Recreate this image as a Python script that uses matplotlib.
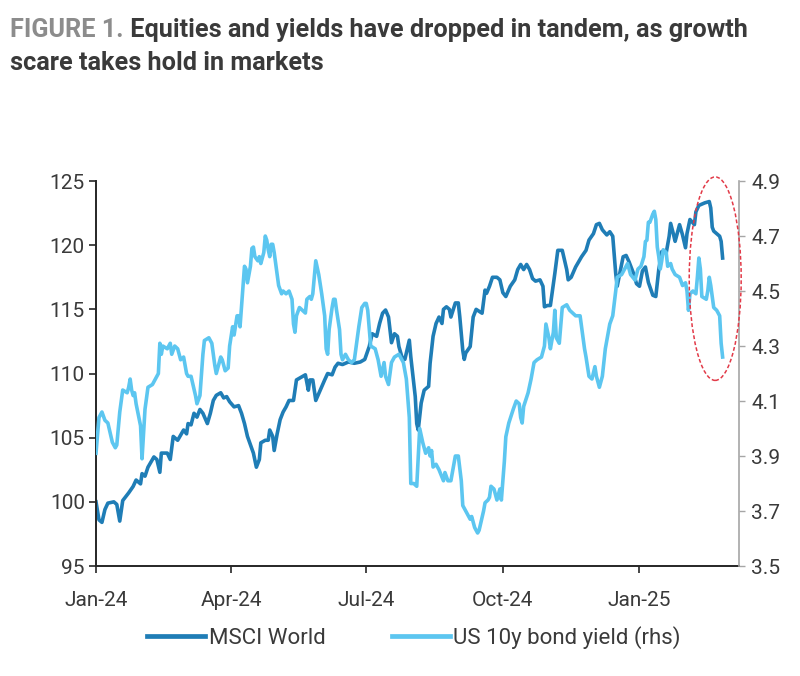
import matplotlib
matplotlib.use("Agg")
import matplotlib.pyplot as plt
import matplotlib.dates as mdates
from matplotlib.patches import Ellipse
from matplotlib.lines import Line2D
import pandas as pd

# ── Data ────────────────────────────────────────────────────────────────────
# x positions are days since 1 Jan 2024
START = "2024-01-01"

msci_day = [
    0, 2, 4, 6, 8, 12, 14, 16, 18, 22, 25, 27, 30, 31, 33, 35, 39, 41, 43, 44,
    48, 50, 52, 55, 59, 61, 62, 64, 66, 68, 70, 72, 75, 77, 79, 81, 84, 86, 88,
    90, 93, 96, 98, 100, 102, 106, 108, 110, 111, 114, 116, 117, 119, 120, 122,
    124, 126, 128, 130, 133, 135, 138, 141, 143, 144, 146, 148, 151, 154, 156,
    159, 161, 163, 166, 170, 174, 178, 181, 184, 186, 189, 191, 193, 195, 197,
    199, 201, 203, 204, 206, 208, 210, 211, 212, 215, 216, 217, 219, 221, 224,
    225, 227, 229, 231, 233, 234, 236, 238, 239, 242, 244, 245, 247, 248, 249,
    252, 254, 256, 260, 262, 263, 265, 267, 270, 272, 274, 276, 279, 282, 284,
    286, 288, 290, 292, 294, 296, 299, 301, 302, 304, 306, 309, 311, 314, 317,
    318, 320, 323, 327, 330, 332, 335, 337, 339, 341, 344, 346, 348, 350, 351,
    355, 357, 359, 362, 364, 366, 368, 370, 372, 375, 377, 379, 381, 384, 386,
    387, 389, 390, 393, 395, 397, 398, 400, 403, 404, 406, 410, 413, 414, 415,
    416, 420, 421, 422,
]
msci_val = [
    100.0, 98.6, 98.4, 99.4, 99.9, 100.0, 99.8, 98.5, 100.1, 100.7, 101.2,
    101.7, 101.4, 102.2, 102.0, 102.7, 103.5, 103.3, 102.3, 103.8, 103.8,
    103.3, 105.1, 104.8, 105.6, 105.3, 106.1, 106.0, 106.9, 106.6, 107.2,
    106.9, 106.1, 106.9, 107.9, 108.3, 108.5, 108.1, 108.2, 107.8, 107.4,
    107.5, 106.9, 106.1, 105.1, 103.8, 102.7, 103.3, 104.6, 104.8, 104.8,
    105.6, 105.1, 104.0, 105.3, 106.4, 107.0, 107.4, 107.9, 107.9, 109.5,
    109.7, 109.9, 108.7, 109.5, 109.5, 107.9, 108.7, 109.5, 110.0, 109.9,
    110.5, 110.8, 110.7, 110.9, 110.8, 110.9, 111.1, 112.1, 113.1, 112.9,
    113.9, 114.7, 114.95, 114.4, 112.4, 113.1, 112.9, 112.1, 111.3, 111.1,
    112.1, 112.6, 111.3, 108.2, 106.1, 105.6, 107.7, 108.7, 109.0, 110.8,
    112.9, 113.9, 114.4, 113.9, 115.0, 115.2, 115.0, 114.4, 115.5, 115.5,
    114.4, 111.8, 111.1, 111.6, 112.1, 114.4, 115.0, 114.7, 116.5, 116.25,
    116.8, 117.5, 117.5, 117.3, 116.3, 116.0, 116.8, 117.3, 118.1, 118.5,
    118.1, 118.5, 118.1, 117.4, 117.2, 117.3, 116.8, 115.2, 115.3, 115.3,
    117.8, 119.6, 119.6, 118.1, 117.3, 117.5, 118.3, 119.1, 119.6, 120.4,
    120.9, 121.6, 121.7, 121.2, 120.8, 121.05, 120.7, 117.8, 116.8, 119.1,
    119.2, 118.7, 117.8, 117.0, 116.8, 118.0, 118.3, 117.1, 116.1, 116.0,
    118.1, 119.5, 119.4, 120.7, 121.7, 120.8, 120.3, 121.6, 120.8, 119.8,
    120.9, 122.0, 121.6, 122.6, 123.1, 123.3, 123.4, 122.9, 121.4, 121.1,
    120.7, 120.3, 119.0,
]

yld_day = [
    0, 2, 4, 6, 8, 11, 13, 14, 16, 17, 18, 21, 22, 23, 24, 25, 26, 27, 30, 31,
    32, 33, 35, 38, 40, 42, 43, 44, 45, 48, 50, 51, 53, 55, 57, 59, 61, 62, 64,
    67, 68, 70, 72, 73, 76, 78, 80, 81, 84, 85, 87, 89, 90, 92, 93, 95, 96, 97,
    99, 100, 101, 102, 104, 105, 106, 107, 109, 110, 111, 113, 114, 115, 116,
    117, 118, 119, 120, 123, 125, 126, 128, 130, 132, 133, 134, 135, 137, 139,
    141, 142, 144, 145, 146, 148, 150, 152, 154, 155, 156, 157, 159, 160, 161,
    162, 164, 165, 166, 168, 170, 172, 174, 177, 179, 181, 182, 183, 185, 188,
    190, 192, 194, 195, 197, 199, 201, 204, 207, 209, 211, 212, 214, 216, 218,
    220, 222, 224, 225, 226, 227, 229, 231, 234, 235, 237, 239, 242, 244, 246,
    247, 249, 252, 253, 255, 257, 258, 261, 262, 264, 265, 266, 268, 270, 272,
    273, 274, 275, 276, 278, 281, 283, 285, 286, 287, 288, 291, 293, 295, 297,
    300, 302, 303, 305, 306, 308, 309, 310, 312, 314, 317, 319, 321, 323, 326,
    328, 329, 330, 332, 334, 336, 337, 339, 341, 343, 346, 348, 350, 351, 354,
    356, 358, 360, 363, 365, 367, 369, 370, 371, 372, 373, 375, 376, 377, 378,
    379, 380, 381, 382, 384, 385, 387, 388, 390, 393, 395, 397, 398, 399, 400,
    402, 404, 405, 406, 407, 408, 411, 412, 413, 414, 415, 416, 418, 420, 421,
    422,
]
yld_val = [
    3.91, 4.04, 4.06, 4.03, 4.02, 3.95, 3.93, 3.94, 4.06, 4.10, 4.14, 4.13,
    4.15, 4.18, 4.14, 4.12, 4.13, 4.09, 4.01, 3.89, 3.98, 4.07, 4.15, 4.16,
    4.18, 4.20, 4.31, 4.27, 4.30, 4.29, 4.31, 4.27, 4.30, 4.29, 4.25, 4.26,
    4.20, 4.19, 4.19, 4.12, 4.09, 4.12, 4.27, 4.32, 4.33, 4.31, 4.23, 4.20,
    4.26, 4.25, 4.21, 4.22, 4.30, 4.37, 4.34, 4.41, 4.41, 4.37, 4.52, 4.59,
    4.58, 4.53, 4.59, 4.655, 4.66, 4.625, 4.61, 4.625, 4.60, 4.64, 4.70,
    4.685, 4.65, 4.625, 4.67, 4.67, 4.64, 4.52, 4.49, 4.50, 4.49, 4.50, 4.47,
    4.38, 4.35, 4.41, 4.44, 4.43, 4.42, 4.47, 4.48, 4.47, 4.49, 4.61, 4.56,
    4.49, 4.41, 4.29, 4.27, 4.36, 4.44, 4.47, 4.47, 4.43, 4.36, 4.27, 4.25,
    4.27, 4.25, 4.24, 4.25, 4.37, 4.44, 4.455, 4.455, 4.43, 4.30, 4.29, 4.25,
    4.19, 4.24, 4.19, 4.16, 4.24, 4.26, 4.27, 4.24, 4.18, 4.04, 3.80, 3.80,
    3.79, 4.00, 3.95, 3.91, 3.93, 3.90, 3.92, 3.86, 3.87, 3.85, 3.81, 3.84,
    3.81, 3.81, 3.90, 3.90, 3.81, 3.72, 3.70, 3.67, 3.68, 3.64, 3.62, 3.63,
    3.70, 3.73, 3.74, 3.75, 3.79, 3.78, 3.74, 3.78, 3.74, 3.81, 3.88, 3.97,
    4.02, 4.07, 4.10, 4.09, 4.04, 4.02, 4.08, 4.13, 4.18, 4.24, 4.25, 4.26,
    4.30, 4.38, 4.33, 4.29, 4.35, 4.43, 4.33, 4.31, 4.44, 4.45, 4.43, 4.42,
    4.41, 4.41, 4.33, 4.29, 4.26, 4.19, 4.18, 4.225, 4.19, 4.15, 4.19, 4.29,
    4.38, 4.41, 4.50, 4.55, 4.56, 4.58, 4.60, 4.56, 4.54, 4.58, 4.59, 4.625,
    4.68, 4.685, 4.75, 4.75, 4.78, 4.79, 4.76, 4.66, 4.625, 4.58, 4.61, 4.65,
    4.64, 4.59, 4.60, 4.58, 4.56, 4.55, 4.52, 4.53, 4.50, 4.43, 4.49, 4.50,
    4.49, 4.55, 4.62, 4.58, 4.48, 4.47, 4.50, 4.55, 4.52, 4.48, 4.44, 4.43,
    4.41, 4.31, 4.26,
]

left_ticks = [95, 100, 105, 110, 115, 120, 125]
right_ticks = [3.5, 3.7, 3.9, 4.1, 4.3, 4.5, 4.7, 4.9]
x_end_day = 433

title_lead = "FIGURE 1."
title_rest = " Equities and yields have dropped in tandem, as growth"
title_line2 = "scare takes hold in markets"
labels = ["MSCI World", "US 10y bond yield (rhs)"]

DARK = "#1F7DB6"
LIGHT = "#5CC6F0"
TXT = "#3A3A3A"
TITLE_FS = 18.2
TICK_FS = 15

# ── Build dates ─────────────────────────────────────────────────────────────
t0 = pd.Timestamp(START)
msci_dates = t0 + pd.to_timedelta(msci_day, unit="D")
yld_dates = t0 + pd.to_timedelta(yld_day, unit="D")

plt.rcParams["font.family"] = ["Roboto", "DejaVu Sans"]

fig = plt.figure(figsize=(8, 6.76), dpi=100)
ax = fig.add_axes([0.12, 0.1627, 0.8037, 0.5695])
ax2 = ax.twinx()

ax.plot(msci_dates, msci_val, color=DARK, lw=2.6, solid_joinstyle="round")
ax2.plot(yld_dates, yld_val, color=LIGHT, lw=2.6, solid_joinstyle="round")

# ── Axes styling ────────────────────────────────────────────────────────────
ax.set_xlim(t0, t0 + pd.Timedelta(days=x_end_day))
ax.set_ylim(left_ticks[0], left_ticks[-1])
ax.set_yticks(left_ticks)
ax2.set_ylim(right_ticks[0], right_ticks[-1])
ax2.set_yticks(right_ticks)
ax2.set_yticklabels([f"{v:.1f}" for v in right_ticks])

ax.xaxis.set_major_locator(mdates.MonthLocator(bymonth=[1, 4, 7, 10]))
ax.xaxis.set_major_formatter(mdates.DateFormatter("%b-%y"))

for a in (ax, ax2):
    a.spines["top"].set_visible(False)
ax2.spines["left"].set_visible(False)
ax2.spines["bottom"].set_visible(False)
ax.spines["right"].set_visible(False)
ax.spines["left"].set_color("#262626")
ax.spines["left"].set_linewidth(1.4)
ax.spines["bottom"].set_color("#262626")
ax.spines["bottom"].set_linewidth(1.4)
ax2.spines["right"].set_color("#A6A6A6")
ax2.spines["right"].set_linewidth(1.2)

ax.tick_params(axis="y", direction="out", length=5, width=1.2,
               color="#262626", labelsize=TICK_FS, labelcolor=TXT, pad=3)
ax.tick_params(axis="x", direction="out", length=5, width=1.2,
               color="#262626", labelsize=TICK_FS, labelcolor=TXT, pad=13)
ax2.tick_params(axis="y", direction="out", length=4, width=1.0,
                color="#A6A6A6", labelsize=TICK_FS, labelcolor=TXT, pad=5)

# ── Highlight ellipse ───────────────────────────────────────────────────────
ell_center = (mdates.date2num(t0 + pd.Timedelta(days=417)), 4.545)
ell = Ellipse(ell_center, width=35, height=0.74, fill=False,
              edgecolor="#E23A48", lw=1.1, linestyle=(0, (2.5, 1.5)),
              clip_on=False, zorder=5)
ax2.add_patch(ell)

# ── Title ───────────────────────────────────────────────────────────────────
t1 = fig.text(0.0125, 0.938, title_lead, fontsize=TITLE_FS, fontweight="bold",
              color="#8C8C8C", va="bottom", ha="left")
fig.canvas.draw()
ax.annotate(title_rest, xy=(1, 0), xycoords=t1, fontsize=TITLE_FS,
            fontweight="bold", color=TXT, va="bottom", ha="left",
            annotation_clip=False)
fig.text(0.0125, 0.889, title_line2, fontsize=TITLE_FS, fontweight="bold",
         color=TXT, va="bottom", ha="left")

# ── Legend ──────────────────────────────────────────────────────────────────
handles = [Line2D([], [], color=DARK, lw=3.4), Line2D([], [], color=LIGHT, lw=3.4)]
fig.legend(handles, labels, loc="center", bbox_to_anchor=(0.5175, 0.057),
           ncol=2, frameon=False, fontsize=16, handlelength=2.6,
           columnspacing=3.0, handletextpad=0.15, labelcolor=TXT)

fig.savefig("out.png", dpi=100)
